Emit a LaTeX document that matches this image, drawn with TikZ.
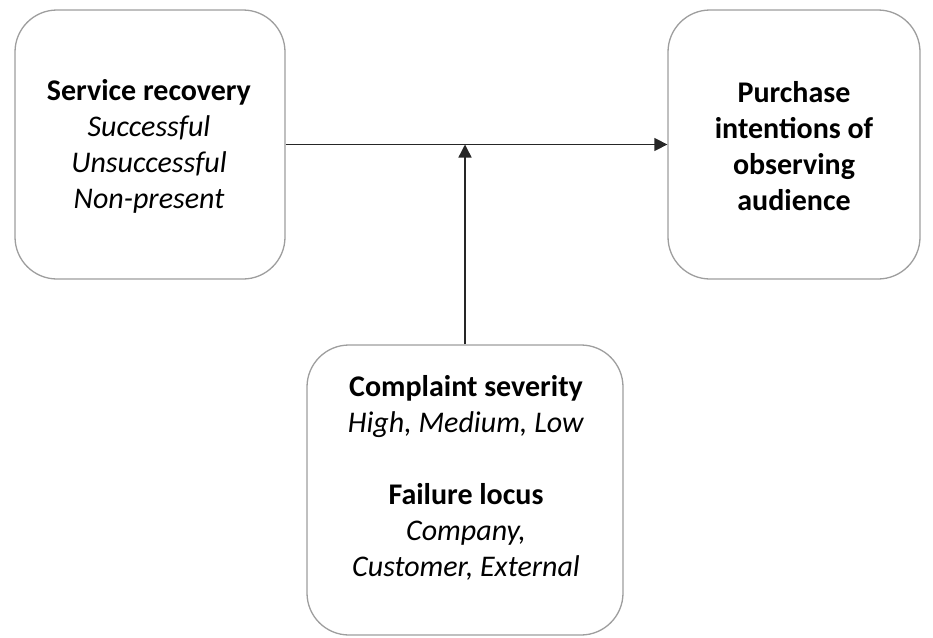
\documentclass[tikz,border=0pt]{standalone}
\usepackage{fontspec}
\setmainfont{Carlito}
\usetikzlibrary{arrows.meta}
\begin{document}
\begin{tikzpicture}[x=1pt,y=-1pt,
  boxst/.style={draw=black!38, line width=1.3pt, rounded corners=42pt, fill=white, inner sep=0pt},
  txt/.style={align=center, font=\fontsize{30}{36}\selectfont, inner sep=0pt},
  conn/.style={line width=1.4pt, draw=black!85, -{Triangle[length=13pt,width=13pt]}}]
\useasboundingbox (0,0) rectangle (933,637);
\node[boxst, minimum width=270pt, minimum height=269pt] (sr) at (150,144.5) {};
\node[boxst, minimum width=252pt, minimum height=269pt] (pi) at (794,144.5) {};
\node[boxst, minimum width=316pt, minimum height=290pt] (cs) at (465,490) {};
\node[txt] (srt) at (149,146) {\textbf{Service recovery}\\\textit{Successful}\\\textit{Unsuccessful}\\\textit{Non-present}};
\node[txt] (pit) at (794,146) {\textbf{Purchase}\\\textbf{intentions of}\\\textbf{observing}\\\textbf{audience}};
\node[txt] (cst) at (466,478) {\textbf{Complaint severity}\\\textit{High, Medium, Low}\\[36pt]\textbf{Failure locus}\\\textit{Company,}\\\textit{Customer, External}};
\draw[conn] (sr.east) -- (pi.west);
\coordinate (jn) at (cs.north |- sr.east);
\draw[conn] (cs.north) -- (jn);
\end{tikzpicture}
\end{document}
